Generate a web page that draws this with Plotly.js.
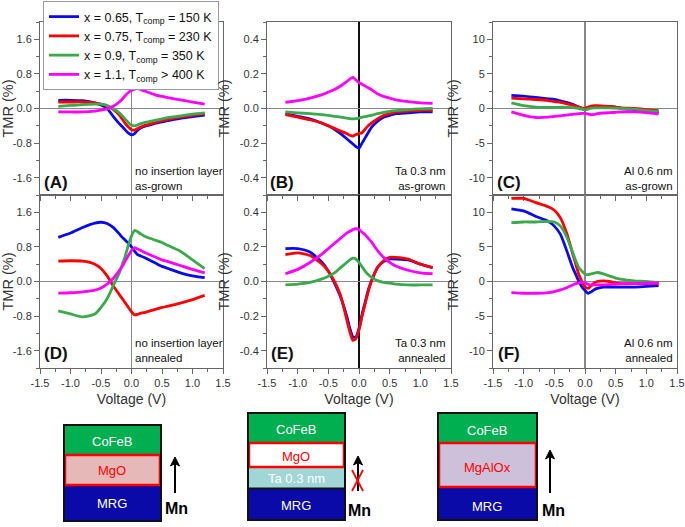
<!DOCTYPE html>
<html><head><meta charset="utf-8">
<script src="https://cdn.plot.ly/plotly-3.0.1.min.js"></script>
<style>html,body{margin:0;padding:0;background:#fff}#chart{width:685px;height:527px}</style>
</head><body><div id="chart"></div>
<script>
// ---------- data ----------
const voltage = [-1.2,-1.0,-0.8,-0.6,-0.5,-0.4,-0.3,-0.2,-0.15,-0.1,-0.05,0,0.05,0.1,0.15,0.2,0.3,0.4,0.5,0.6,0.8,1.0,1.2];
const seriesNames = ['x = 0.65, T<sub>comp</sub> = 150 K','x = 0.75, T<sub>comp</sub> = 230 K','x = 0.9, T<sub>comp</sub> = 350 K','x = 1.1, T<sub>comp</sub> > 400 K'];
const seriesColors = ['#0a0aee','#ff0000','#3aaa4c','#ff00ff'];

// (A) no insertion layer, as-grown
const A_blue = [0.19,0.19,0.18,0.13,0.08,0.0,-0.18,-0.35,-0.42,-0.5,-0.57,-0.61,-0.58,-0.5,-0.45,-0.42,-0.38,-0.34,-0.31,-0.28,-0.23,-0.19,-0.15];
const A_red = [0.15,0.15,0.15,0.13,0.1,0.06,-0.02,-0.15,-0.25,-0.35,-0.43,-0.49,-0.5,-0.46,-0.43,-0.4,-0.36,-0.32,-0.28,-0.25,-0.2,-0.16,-0.12];
const A_green = [0.05,0.07,0.09,0.1,0.1,0.07,0.0,-0.1,-0.17,-0.25,-0.33,-0.38,-0.4,-0.38,-0.35,-0.33,-0.3,-0.27,-0.24,-0.21,-0.17,-0.13,-0.1];
const A_magenta = [-0.08,-0.08,-0.08,-0.06,-0.04,-0.01,0.05,0.15,0.22,0.3,0.37,0.42,0.45,0.46,0.44,0.41,0.36,0.31,0.28,0.25,0.2,0.15,0.1];
// (B) Ta 0.3 nm, as-grown
const B_blue = [-0.03,-0.045,-0.06,-0.085,-0.1,-0.12,-0.145,-0.175,-0.19,-0.205,-0.22,-0.23,-0.2,-0.17,-0.14,-0.11,-0.075,-0.05,-0.04,-0.03,-0.025,-0.02,-0.02];
const B_red = [-0.035,-0.05,-0.065,-0.085,-0.1,-0.115,-0.13,-0.145,-0.155,-0.16,-0.15,-0.145,-0.14,-0.12,-0.1,-0.085,-0.06,-0.04,-0.03,-0.02,-0.015,-0.01,-0.01];
const B_green = [-0.02,-0.025,-0.03,-0.035,-0.04,-0.045,-0.05,-0.055,-0.058,-0.06,-0.058,-0.055,-0.05,-0.047,-0.043,-0.04,-0.03,-0.022,-0.016,-0.012,-0.006,-0.002,0.0];
const B_magenta = [0.035,0.045,0.06,0.08,0.095,0.11,0.13,0.155,0.17,0.18,0.165,0.15,0.14,0.13,0.12,0.11,0.085,0.07,0.06,0.05,0.04,0.033,0.03];
// (C) Al 0.6 nm, as-grown
const C_blue = [1.9,1.8,1.6,1.4,1.3,1.1,0.9,0.6,0.4,0.2,0.0,-0.2,0.0,0.2,0.3,0.3,0.3,0.3,0.2,0.0,-0.15,-0.35,-0.6];
const C_red = [1.5,1.4,1.3,1.15,1.0,0.9,0.7,0.5,0.35,0.2,0.05,0.0,0.2,0.35,0.4,0.4,0.35,0.3,0.2,0.1,0.0,-0.15,-0.3];
const C_green = [0.8,0.4,0.2,0.15,0.15,0.18,0.2,0.12,0.06,0.0,-0.1,-0.2,-0.1,0.05,0.1,0.1,0.1,0.1,0.05,0.0,-0.1,-0.3,-0.4];
const C_magenta = [-0.5,-1.0,-1.3,-1.25,-1.15,-1.05,-0.95,-0.85,-0.8,-0.75,-0.7,-0.7,-0.8,-0.9,-0.85,-0.75,-0.65,-0.6,-0.55,-0.5,-0.5,-0.6,-0.8];
// (D) no insertion layer, annealed
const D_blue = [1.02,1.12,1.25,1.35,1.37,1.34,1.25,1.1,1.02,0.95,0.88,0.8,0.7,0.62,0.59,0.56,0.49,0.42,0.35,0.3,0.2,0.13,0.09];
const D_red = [0.47,0.48,0.47,0.4,0.3,0.13,-0.1,-0.3,-0.4,-0.5,-0.6,-0.7,-0.77,-0.76,-0.73,-0.72,-0.68,-0.64,-0.6,-0.57,-0.5,-0.42,-0.32];
const D_green = [-0.68,-0.75,-0.82,-0.75,-0.6,-0.4,-0.1,0.2,0.4,0.6,0.85,1.05,1.18,1.15,1.1,1.06,1.0,0.95,0.9,0.83,0.7,0.5,0.3];
const D_magenta = [-0.27,-0.26,-0.24,-0.2,-0.15,-0.06,0.07,0.25,0.35,0.48,0.6,0.72,0.78,0.75,0.72,0.68,0.62,0.56,0.5,0.46,0.37,0.28,0.2];
// (E) Ta 0.3 nm, annealed
const E_blue = [0.19,0.19,0.17,0.11,0.06,-0.01,-0.09,-0.2,-0.27,-0.32,-0.32,-0.27,-0.19,-0.12,-0.05,0.0,0.08,0.115,0.13,0.13,0.125,0.1,0.08];
const E_red = [0.155,0.165,0.15,0.1,0.06,0.0,-0.08,-0.22,-0.29,-0.34,-0.33,-0.28,-0.2,-0.13,-0.06,0.0,0.08,0.12,0.14,0.14,0.13,0.1,0.08];
const E_green = [-0.02,-0.015,-0.005,0.015,0.03,0.05,0.08,0.11,0.125,0.135,0.13,0.11,0.085,0.06,0.04,0.025,0.005,-0.005,-0.01,-0.015,-0.02,-0.02,-0.02];
const E_magenta = [0.045,0.07,0.11,0.16,0.19,0.22,0.25,0.28,0.29,0.3,0.305,0.3,0.285,0.27,0.25,0.23,0.18,0.14,0.11,0.09,0.065,0.05,0.045];
// (F) Al 0.6 nm, annealed
const F_blue = [10.5,10.2,9.4,8.7,8.0,6.8,4.5,2.0,1.0,0.0,-0.8,-1.3,-1.7,-1.5,-1.2,-1.0,-0.8,-0.8,-0.8,-0.8,-0.8,-0.7,-0.6];
const F_red = [12.0,12.0,11.4,10.8,10.3,9.2,7.0,4.0,2.5,1.0,0.0,-0.8,-1.0,-0.6,-0.2,0.0,0.1,0.0,-0.2,-0.3,-0.3,-0.3,-0.3];
const F_green = [8.5,8.6,8.6,8.7,8.6,8.0,6.5,4.2,3.0,2.0,1.5,1.1,1.0,1.1,1.2,1.3,1.1,0.8,0.5,0.3,0.1,0.0,-0.2];
const F_magenta = [-1.6,-1.7,-1.7,-1.6,-1.45,-1.2,-0.9,-0.5,-0.3,-0.2,-0.1,-0.2,-0.4,-0.5,-0.5,-0.5,-0.5,-0.45,-0.4,-0.35,-0.3,-0.25,-0.2];

const xTickVals = [-1.5,-1.0,-0.5,0,0.5,1.0,1.5];
const xTickText = ['-1.5','-1.0','-0.5','0.0','0.5','1.0','1.5'];
const yTickValsAD = [-1.6,-0.8,0,0.8,1.6];
const yTickTextAD = ['-1.6','-0.8','0.0','0.8','1.6'];
const yTickValsBE = [-0.4,-0.2,0,0.2,0.4];
const yTickTextBE = ['-0.4','-0.2','0.0','0.2','0.4'];
const yTickValsCF = [-10,-5,0,5,10];
const yTickTextCF = ['-10','-5','0','5','10'];

const panelLabels = ['(A)','(B)','(C)','(D)','(E)','(F)'];
const panelNotes = ['no insertion layer<br>as-grown','Ta 0.3 nm<br>as-grown','Al 0.6 nm<br>as-grown',
                    'no insertion layer<br>annealed','Ta 0.3 nm<br>annealed','Al 0.6 nm<br>annealed'];

// ---------- build ----------
const FONT = 'Liberation Sans, Arial, sans-serif';
const W = 685, H = 527;
const PX = p => p / W, PY = p => 1 - p / H;

const panels = [
  [A_blue,A_red,A_green,A_magenta],
  [B_blue,B_red,B_green,B_magenta],
  [C_blue,C_red,C_green,C_magenta],
  [D_blue,D_red,D_green,D_magenta],
  [E_blue,E_red,E_green,E_magenta],
  [F_blue,F_red,F_green,F_magenta]
];

const traces = [];
panels.forEach((sers, pi) => {
  sers.forEach((vals, si) => {
    traces.push({
      type:'scatter', mode:'lines', x: voltage, y: vals,
      xaxis: pi === 0 ? 'x' : 'x' + (pi + 1), yaxis: pi === 0 ? 'y' : 'y' + (pi + 1),
      name: seriesNames[si], legendgroup: 's' + si, showlegend: pi === 0,
      line: {color: seriesColors[si], width: 2.8, shape: 'spline', smoothing: 0.6},
      hoverinfo: 'skip'
    });
  });
});

const colDom = [[40,223],[267,451],[493,677]];
const rowDom = [[22,195],[195,368]];
const yTicks = [[yTickValsAD,yTickTextAD,[-2,2],0.4],[yTickValsBE,yTickTextBE,[-0.5,0.5],0.1],[yTickValsCF,yTickTextCF,[-12.5,12.5],2.5]];

const layout = {
  width: W, height: H, margin: {l:0,r:0,t:0,b:0}, paper_bgcolor:'#fff', plot_bgcolor:'#fff',
  font: {family: FONT, color:'#222'},
  showlegend: true,
  legend: {x: PX(43), xanchor:'left', y: PY(1), yanchor:'top', bgcolor:'#fff', bordercolor:'#999', borderwidth:1,
           font:{size:12.5, family:FONT, color:'#111'}, itemwidth:30, tracegroupgap:0},
  shapes: [], annotations: []
};

for (let pi = 0; pi < 6; pi++) {
  const col = pi % 3, row = Math.floor(pi / 3);
  const sfx = pi === 0 ? '' : String(pi + 1);
  const [tv, tt, rng, mdt] = yTicks[col];
  const zcol = col === 1 ? '#111' : '#888';
  const xa = {
    domain: [PX(colDom[col][0]), PX(colDom[col][1])], anchor: 'y' + sfx,
    range: [-1.5, 1.5], tickmode:'array', tickvals: xTickVals, ticktext: xTickText,
    showticklabels: row === 1, ticks:'outside', ticklen:5, tickcolor:'#666',
    minor: {tickmode:'linear', tick0:0, dtick:0.25, ticks:'outside', ticklen:3, tickcolor:'#666'},
    showline:true, mirror:true, linecolor:'#666', linewidth:1, showgrid:false,
    zeroline:true, zerolinecolor: zcol, zerolinewidth:1.3,
    tickfont:{size:11, color:'#333', family:FONT}
  };
  if (row === 1) xa.title = {text:'Voltage (V)', font:{size:14, color:'#333', family:FONT}, standoff:5};
  layout['xaxis' + sfx] = xa;
  layout['yaxis' + sfx] = {
    domain: [PY(rowDom[row][1]), PY(rowDom[row][0])], anchor: 'x' + sfx,
    range: rng, tickmode:'array', tickvals: tv, ticktext: tt,
    ticks:'outside', ticklen:5, tickcolor:'#666',
    minor: {tickmode:'linear', tick0:0, dtick:mdt, ticks:'outside', ticklen:3, tickcolor:'#666'},
    showline:true, mirror:true, linecolor:'#666', linewidth:1, showgrid:false,
    zeroline:true, zerolinecolor:'#888', zerolinewidth:1.3,
    tickfont:{size:11, color:'#333', family:FONT},
    title: {text:'TMR (%)', font:{size:14.5, color:'#333', family:FONT}, standoff:6}
  };
  // panel letter
  const labX = [56,282,509][col], labY = [183,353][row];
  layout.annotations.push({xref:'paper', yref:'paper', x:PX(labX), y:PY(labY), text:'<b>'+panelLabels[pi]+'</b>',
    showarrow:false, font:{size:17, color:'#111', family:FONT}, xanchor:'center', yanchor:'middle'});
  // note text
  const noteY = [178,350][row];
  if (col === 0) {
    layout.annotations.push({xref:'paper', yref:'paper', x:PX(133), y:PY(noteY), text:panelNotes[pi], align:'left',
      showarrow:false, font:{size:11.5, color:'#111', family:FONT}, xanchor:'left', yanchor:'middle'});
  } else {
    const rx = col === 1 ? 448 : 675;
    layout.annotations.push({xref:'paper', yref:'paper', x:PX(rx), y:PY(noteY), text:panelNotes[pi], align:'right',
      showarrow:false, font:{size:11.5, color:'#111', family:FONT}, xanchor:'right', yanchor:'middle'});
  }
}

// ---------- layer stacks ----------
function rect(x0,y0,x1,y1,fill,lineColor,lw){
  layout.shapes.push({type:'rect', xref:'paper', yref:'paper', x0:PX(x0), x1:PX(x1), y0:PY(y1), y1:PY(y0),
    fillcolor: fill || 'rgba(0,0,0,0)', line:{color: lineColor || 'rgba(0,0,0,0)', width: lw || 0}, layer:'above'});
}
function seg(x0,y0,x1,y1,color,w){
  layout.shapes.push({type:'line', xref:'paper', yref:'paper', x0:PX(x0), x1:PX(x1), y0:PY(y0), y1:PY(y1),
    line:{color:color, width:w}, layer:'above'});
}
function txt(x,y,t,color,size,bold){
  layout.annotations.push({xref:'paper', yref:'paper', x:PX(x), y:PY(y), text: bold ? '<b>'+t+'</b>' : t,
    showarrow:false, font:{size:size, color:color, family:FONT}, xanchor:'center', yanchor:'middle'});
}
function arrow(x,yHead,yTail){
  seg(x, yTail, x, yHead + 4, '#000', 2);
  layout.shapes.push({type:'path', xref:'paper', yref:'paper', layer:'above',
    path:`M ${PX(x)} ${PY(yHead)} L ${PX(x-4.5)} ${PY(yHead+9)} L ${PX(x)} ${PY(yHead+6.5)} L ${PX(x+4.5)} ${PY(yHead+9)} Z`,
    fillcolor:'#000', line:{color:'#000', width:1}});
}
const GREEN = '#00b050', BLUE = '#0a0aa8', RED = '#ff0000';
// stack 1
rect(64,425,161,455,GREEN); rect(64,455,161,485,'#e6b9b8'); rect(64,485,161,521,BLUE);
rect(65,455,160,485,null,RED,2.5); rect(64,425,161,521,null,'#111',2);
txt(112,441,'CoFeB','#fff',13); txt(112,470,'MgO',RED,13); txt(112,503,'MRG','#fff',13);
arrow(175,457,493); txt(176,508,'Mn','#000',16,true);
// stack 2
rect(248,413,345,443,GREEN); rect(248,443,345,467,'#fff'); rect(248,467,345,488,'#a0d6d6'); rect(248,489,345,520,BLUE);
rect(249,443,344,467,null,RED,2.5);
seg(248,488.5,345,488.5,'#111',2);
rect(248,413,345,520,null,'#111',2);
txt(296,429,'CoFeB','#fff',13); txt(296,456,'MgO',RED,13); txt(296,478,'Ta 0.3 nm','#fff',13); txt(296,505,'MRG','#fff',13);
arrow(358,456,491); txt(359,510,'Mn','#000',16,true);
seg(352,470,363,491,RED,1.8); seg(363,470,352,491,RED,1.8);
// stack 3
rect(438,413,537,443,GREEN); rect(438,443,537,487,'#ccc0da'); rect(438,487,537,520,BLUE);
rect(439,443,536,487,null,RED,2.5); rect(438,413,537,520,null,'#111',2);
txt(487,430,'CoFeB','#fff',13); txt(487,467,'MgAlOx',RED,13); txt(487,506,'MRG','#fff',13);
arrow(550,450,493); txt(553,510,'Mn','#000',16,true);

Plotly.newPlot('chart', traces, layout, {staticPlot:true, displayModeBar:false});
</script></body></html>
